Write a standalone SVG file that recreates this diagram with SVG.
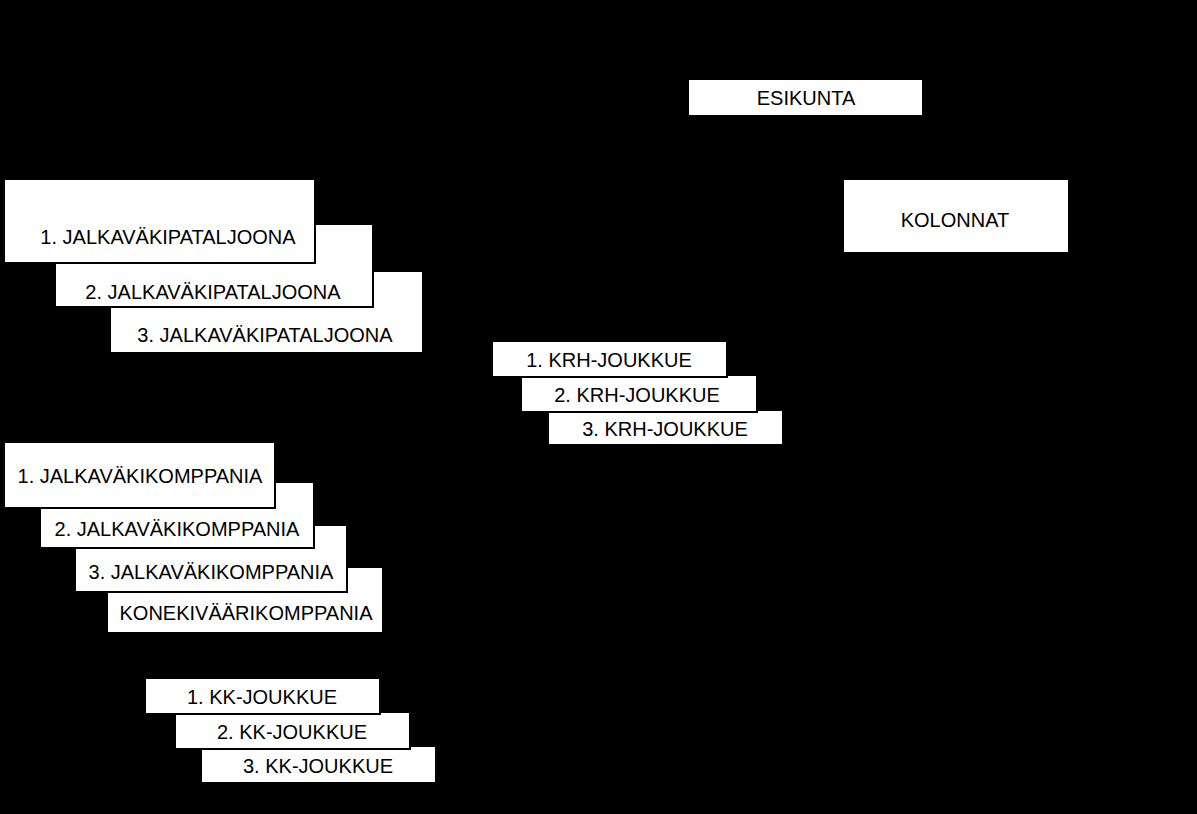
<svg xmlns="http://www.w3.org/2000/svg" width="1197" height="814" viewBox="0 0 1197 814">
<style>
.box{fill:#fff;stroke:#000;stroke-width:2}
.t{font-family:"Liberation Sans",Arial,sans-serif;font-size:20px;fill:#000;text-anchor:middle}
</style>
<rect x="0" y="0" width="1197" height="814" fill="#000"/>
<g id="esikunta"><rect class="box" x="688" y="79" width="235" height="37"/><text class="t" x="806" y="105">ESIKUNTA</text></g>
<g id="kolonnat"><rect class="box" x="843" y="179" width="226" height="74"/><text class="t" x="955" y="227">KOLONNAT</text></g>
<g id="jp3"><rect class="box" x="110" y="271" width="313" height="82"/><text class="t" x="265" y="342">3. JALKAVÄKIPATALJOONA</text></g>
<g id="jp2"><rect class="box" x="55" y="224" width="318" height="83"/><text class="t" x="213" y="299">2. JALKAVÄKIPATALJOONA</text></g>
<g id="jp1"><rect class="box" x="4" y="179" width="311" height="84"/><text class="t" x="168" y="244">1. JALKAVÄKIPATALJOONA</text></g>
<g id="krh3"><rect class="box" x="548" y="410" width="235" height="35"/><text class="t" x="665" y="436">3. KRH-JOUKKUE</text></g>
<g id="krh2"><rect class="box" x="521" y="375" width="236" height="37"/><text class="t" x="637" y="402">2. KRH-JOUKKUE</text></g>
<g id="krh1"><rect class="box" x="492" y="341" width="235" height="36"/><text class="t" x="609" y="367">1. KRH-JOUKKUE</text></g>
<g id="kvk"><rect class="box" x="107" y="567" width="276" height="66"/><text class="t" x="246" y="620">KONEKIVÄÄRIKOMPPANIA</text></g>
<g id="jk3"><rect class="box" x="75" y="525" width="272" height="67"/><text class="t" x="211" y="579">3. JALKAVÄKIKOMPPANIA</text></g>
<g id="jk2"><rect class="box" x="40" y="482" width="274" height="66"/><text class="t" x="177" y="536">2. JALKAVÄKIKOMPPANIA</text></g>
<g id="jk1"><rect class="box" x="4" y="442" width="271" height="66"/><text class="t" x="140" y="483">1. JALKAVÄKIKOMPPANIA</text></g>
<g id="kk3"><rect class="box" x="201" y="746" width="235" height="37"/><text class="t" x="318" y="773">3. KK-JOUKKUE</text></g>
<g id="kk2"><rect class="box" x="175" y="712" width="235" height="37"/><text class="t" x="292" y="739">2. KK-JOUKKUE</text></g>
<g id="kk1"><rect class="box" x="145" y="678" width="235" height="36"/><text class="t" x="262" y="704">1. KK-JOUKKUE</text></g>
</svg>
